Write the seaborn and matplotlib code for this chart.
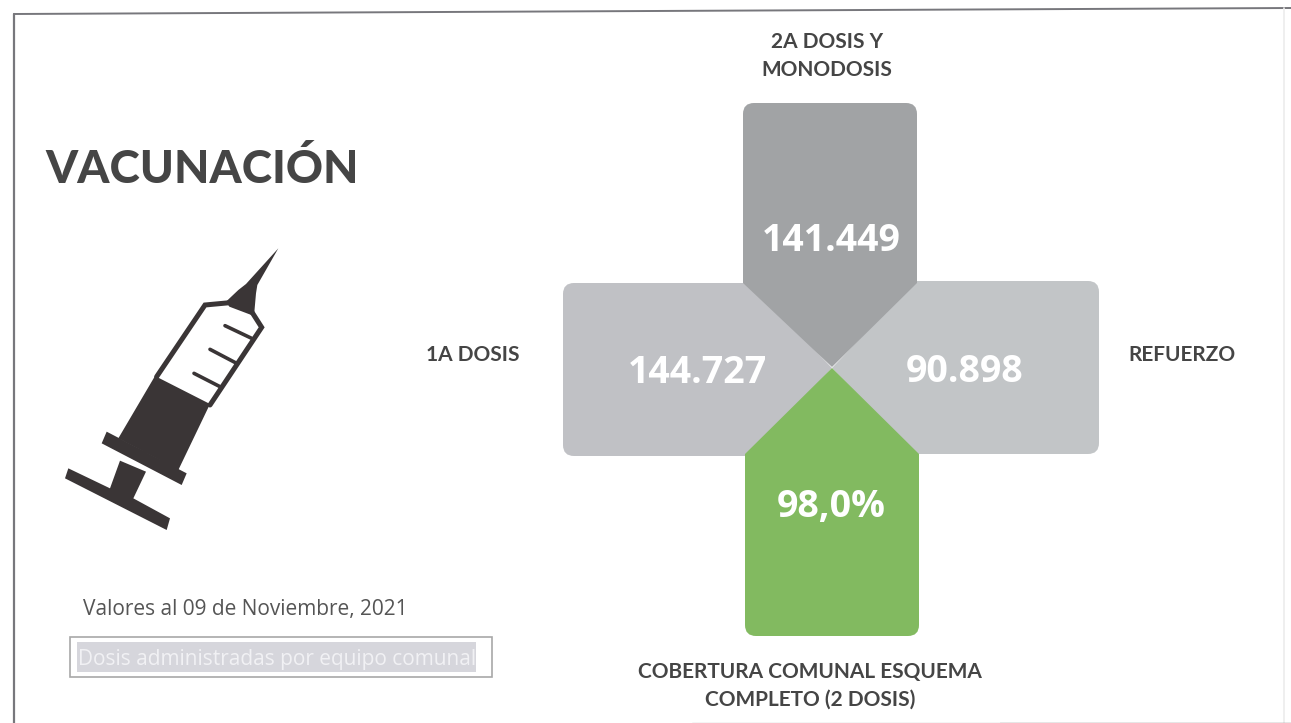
import matplotlib
matplotlib.use('Agg')
import matplotlib.pyplot as plt
from matplotlib.path import Path
from matplotlib.patches import PathPatch, Polygon, Rectangle
import seaborn as sns

# Values shown on the cross
categories = ['2A DOSIS Y\nMONODOSIS', '1A DOSIS', 'REFUERZO', 'COBERTURA COMUNAL ESQUEMA\nCOMPLETO (2 DOSIS)']
value_labels = ['141.449', '144.727', '90.898', '98,0%']
tile_colors = ['#a1a3a5', '#c0c1c5', '#c2c5c7', '#82ba60']

title = 'VACUNACIÓN'
date_note = 'Valores al 09 de Noviembre, 2021'
box_note = 'Dosis administradas por equipo comunal'

sns.set_theme(style='white')
plt.rcParams['font.family'] = ['Open Sans', 'DejaVu Sans']
palette = sns.color_palette(tile_colors)
dark = '#454545'


def rounded(points, radius):
    # closed path through points, corners with r > 0 get rounded
    verts, codes = [], []
    n = len(points)
    for i in range(n):
        x, y, r = points[i]
        px, py, _ = points[i - 1]
        nx, ny, _ = points[(i + 1) % n]
        if r:
            d1 = ((px - x) ** 2 + (py - y) ** 2) ** 0.5
            d2 = ((nx - x) ** 2 + (ny - y) ** 2) ** 0.5
            start = (x + (px - x) * radius / d1, y + (py - y) * radius / d1)
            end = (x + (nx - x) * radius / d2, y + (ny - y) * radius / d2)
            verts += [start, (x, y), end]
            codes += [Path.LINETO, Path.CURVE3, Path.CURVE3]
        else:
            verts.append((x, y))
            codes.append(Path.LINETO)
    codes[0] = Path.MOVETO
    verts.append(verts[0])
    codes.append(Path.CLOSEPOLY)
    return Path(verts, codes)


def zoomed(points):
    # syringe outline was measured on a 3x crop starting at (40, 230)
    return [(40 + x / 3, 230 + y / 3) for x, y in points]


fig, ax = plt.subplots(figsize=(12.91, 7.23), dpi=100)
ax.set_xlim(0, 1291)
ax.set_ylim(723, 0)
ax.set_position([0, 0, 1, 1])
ax.set_xticks([])
ax.set_yticks([])
sns.despine(ax=ax, left=True, bottom=True, top=True, right=True)

# scanned page frame
ax.plot([14, 14], [723, 14], color='#77777c', lw=1.6)
ax.plot([14, 1291], [14, 8], color='#77777c', lw=1.4)
ax.plot([1284, 1284], [8, 723], color='#ececec', lw=1.2)
ax.plot([692, 1000], [722.5, 722.5], color='#c8c8c8', lw=1)
ax.plot([1000, 1291], [722.5, 722.5], color='#808080', lw=1)

# cross tiles, drawn back to front
left_tile = [(563, 283, 1), (750, 283, 0), (832, 368, 0), (750, 456, 0), (563, 456, 1)]
right_tile = [(1099, 281, 1), (1099, 454, 1), (915, 454, 0), (832, 368, 0), (915, 281, 0)]
top_tile = [(743, 103, 1), (917, 103, 1), (917, 283, 0), (832, 367, 0), (743, 283, 0)]
bottom_tile = [(832, 368, 0), (919, 454, 0), (919, 636, 1), (745, 636, 1), (745, 454, 0)]
for pts, col in zip([left_tile, right_tile, top_tile, bottom_tile], [palette[1], palette[2], palette[0], palette[3]]):
    ax.add_patch(PathPatch(rounded(pts, 11), facecolor=col, edgecolor='none'))

# values
value_xy = [(831, 241), (697, 373), (965, 372), (831, 507)]
for (x, y), label in zip(value_xy, value_labels):
    ax.text(x, y, label, color='white', fontsize=27, fontweight='bold', ha='center', va='center')

# category labels
label_xy = [(827, 56), (473, 355), (1182, 355), (810, 686)]
for (x, y), label in zip(label_xy, categories):
    ax.text(x, y, label, color=dark, fontsize=15, fontweight='bold', ha='center', va='center',
            family=['Lato', 'DejaVu Sans'], linespacing=1.5)

ax.text(45, 183, title, color=dark, fontsize=33, fontweight='black', ha='left', va='baseline',
        family=['Lato', 'DejaVu Sans'])

# syringe icon
ink = '#3a3536'
plunger = [(85, 715), (210, 775), (240, 692), (318, 725), (280, 805), (390, 865), (380, 900), (75, 745)]
flange = [(200, 605), (440, 730), (425, 765), (185, 640)]
liquid = [(345, 438), (510, 522), (415, 720), (235, 625)]
hub = [(558, 215), (595, 180), (618, 162), (715, 55), (652, 165), (648, 190), (642, 258), (568, 230)]
for shape in [plunger, flange, liquid, hub]:
    ax.add_patch(Polygon(zoomed(shape), closed=True, facecolor=ink, edgecolor='none'))
wall_a = zoomed([(350, 440), (495, 225), (570, 218)])
wall_b = zoomed([(635, 245), (665, 292), (510, 525)])
for wall in [wall_a, wall_b]:
    ax.plot(*zip(*wall), color=ink, lw=3.6, solid_joinstyle='miter')
for tick in [[(555, 287), (635, 325)], [(510, 358), (590, 400)], [(462, 430), (540, 470)]]:
    ax.plot(*zip(*zoomed(tick)), color=ink, lw=2.6)

# footnotes
ax.text(83, 609, date_note, color='#555555', fontsize=15, ha='left', va='center')
ax.add_patch(Rectangle((70, 637), 422, 40, facecolor='white', edgecolor='#a8a8a8', lw=1.2))
ax.add_patch(Rectangle((77, 642), 399, 30, facecolor='#d6d6dc', edgecolor='none'))
ax.text(78, 659, box_note, color='#f1f1f4', fontsize=15, ha='left', va='center')

fig.savefig('out.png', dpi=100)
